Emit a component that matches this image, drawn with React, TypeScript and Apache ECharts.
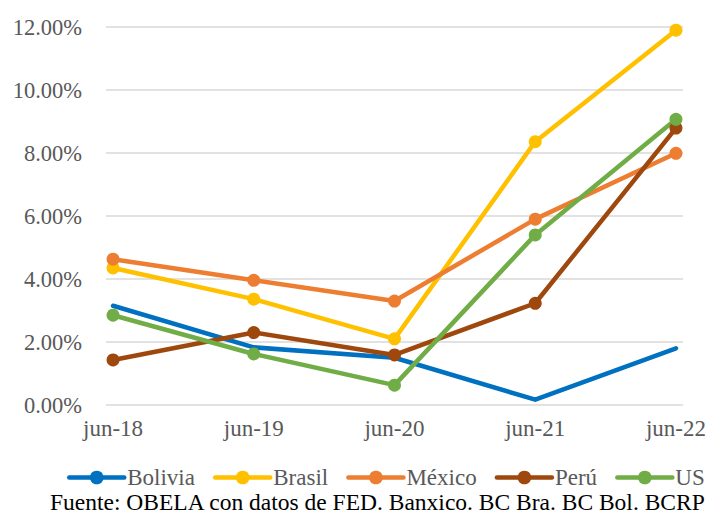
import React, { useEffect, useRef } from "react";
import * as echarts from "echarts";

const categories = ["jun-18", "jun-19", "jun-20", "jun-21", "jun-22"];
const bolivia = [3.15, 1.83, 1.5, 0.17, 1.8];
const brasil = [4.35, 3.36, 2.1, 8.36, 11.9];
const mexico = [4.63, 3.96, 3.3, 5.9, 7.99];
const peru = [1.43, 2.3, 1.59, 3.23, 8.79];
const us = [2.85, 1.62, 0.63, 5.4, 9.07];
const yTicks = [0, 2, 4, 6, 8, 10, 12];
const seriesNames = ["Bolivia", "Brasil", "México", "Perú", "US"];
const source = "Fuente: OBELA con datos de FED. Banxico. BC Bra. BC Bol. BCRP";

const FONT = "Times New Roman, Liberation Serif, DejaVu Serif, serif";

export default function App() {
  const ref = useRef<HTMLDivElement>(null);
  useEffect(() => {
    if (!ref.current) return;
    const chart = echarts.init(ref.current, undefined, { renderer: "svg" });
    const mk = (name: string, values: number[], color: string, showSym: boolean) => ({
      name,
      type: "line",
      data: values.map((v, i) => [i, v]),
      symbol: "circle",
      symbolSize: 13,
      showSymbol: showSym,
      lineStyle: { width: 4.5, color, cap: "round", join: "round" },
      itemStyle: { color },
      emphasis: { disabled: true },
    });
    chart.setOption({
      animation: false,
      textStyle: { fontFamily: FONT },
      grid: { left: 106, right: 40, top: 27, bottom: 109 },
      xAxis: {
        type: "value",
        min: -0.05,
        max: 4.05,
        axisLine: { show: false },
        axisTick: { show: false },
        splitLine: { show: false },
        axisLabel: {
          customValues: [0, 1, 2, 3, 4],
          formatter: (v: number) => categories[Math.round(v)] ?? "",
          fontFamily: FONT,
          fontSize: 23,
          color: "#595959",
          margin: 12,
        },
      },
      yAxis: {
        type: "value",
        min: yTicks[0],
        max: yTicks[yTicks.length - 1],
        interval: 2,
        axisLine: { show: false },
        axisTick: { show: false },
        splitLine: { lineStyle: { color: "#d9d9d9", width: 1.5 } },
        axisLabel: {
          formatter: (v: number) => v.toFixed(2) + "%",
          fontFamily: FONT,
          fontSize: 22.5,
          color: "#595959",
          margin: 24,
        },
      },
      legend: {
        top: 461,
        left: 62,
        itemWidth: 55,
        itemHeight: 17,
        itemGap: 18,
        lineStyle: { width: 4.5 },
        textStyle: { fontFamily: FONT, fontSize: 23, color: "#595959", padding: [0, 0, 0, -2] },
        data: seriesNames,
      },
      graphic: [
        {
          type: "text",
          left: 50,
          top: 490,
          style: { text: source, fontFamily: FONT, fontSize: 23.5, fill: "#000000" },
        },
      ],
      series: [
        mk(seriesNames[0], bolivia, "#0070C0", false),
        mk(seriesNames[1], brasil, "#FFC000", true),
        mk(seriesNames[2], mexico, "#ED7D31", true),
        mk(seriesNames[3], peru, "#9E480E", true),
        mk(seriesNames[4], us, "#70AD47", true),
      ],
    });
    return () => chart.dispose();
  }, []);
  return <div ref={ref} style={{ width: 723, height: 514, position: "absolute", left: 0, top: 0 }} />;
}
